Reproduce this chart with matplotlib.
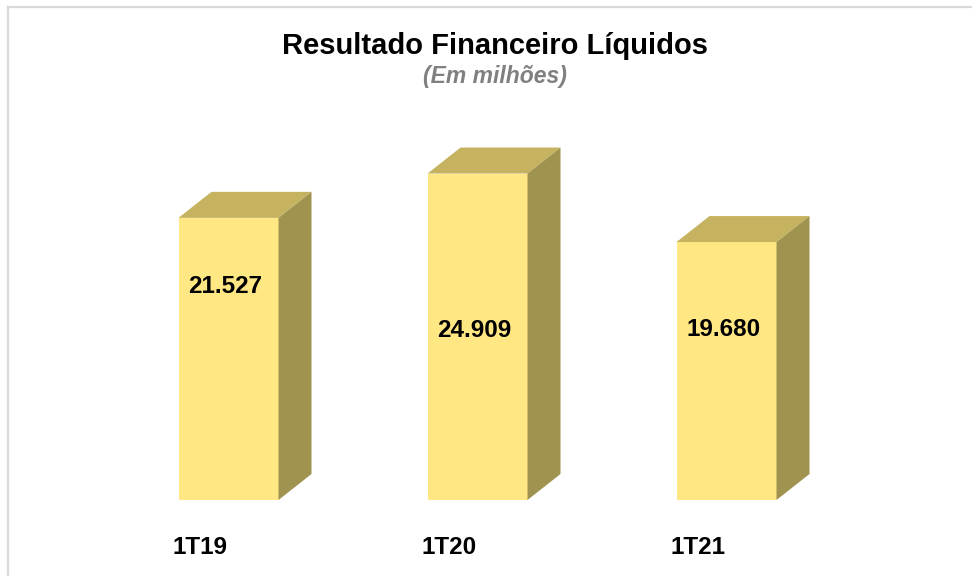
import matplotlib.pyplot as plt
from matplotlib.patches import Polygon
from matplotlib.lines import Line2D

plt.rcParams['font.family'] = ['Liberation Sans', 'DejaVu Sans']

# dados
categorias = ['1T19', '1T20', '1T21']
valores = [21527, 24909, 19680]
rotulos = ['21.527', '24.909', '19.680']
pos_rotulo = [0.755, 0.52, 0.66]   # altura relativa do rótulo dentro da barra

W, H = 972, 576
fig = plt.figure(figsize=(W / 100, H / 100), dpi=100)
ax = fig.add_axes([0, 0, 1, 1])
ax.axis('off')

# escala: 1 categoria = 249 px, 76.3 unidades por px, base em y=500 px (de cima)
px_x = 249.0
px_y = 76.3
x0 = 228.5
base = H - 500
ax.set_xlim(-x0 / px_x, (W - x0) / px_x)
ax.set_ylim(-base * px_y, (H - base) * px_y)

largura = 100 / px_x
dx = 33 / px_x
dy = 26 * px_y

frente = '#FFE883'
topo = '#C6B35F'
lado = '#A09350'

xs = list(range(len(categorias)))
ax.bar(xs, valores, width=largura, color=frente, zorder=2)

for x, v in zip(xs, valores):
    l = x - largura / 2
    r = x + largura / 2
    ax.add_patch(Polygon([(l, v), (r, v), (r + dx, v + dy), (l + dx, v + dy)],
                         closed=True, facecolor=topo, edgecolor='none', zorder=2))
    ax.add_patch(Polygon([(r, 0), (r, v), (r + dx, v + dy), (r + dx, dy)],
                         closed=True, facecolor=lado, edgecolor='none', zorder=2))

for x, v, t, f in zip(xs, valores, rotulos, pos_rotulo):
    ax.text(x - 0.012, v * f, t, ha='center', va='center', fontsize=17.5,
            fontweight='bold', color='black', zorder=3)

for x, c in zip(xs, categorias):
    ax.text(x - 0.225, -48 * px_y, c, ha='left', va='center', fontsize=17.5,
            fontweight='bold', color='black')

fig.text(495 / W, 1 - 46 / H, 'Resultado Financeiro Líquidos', ha='center',
         va='center', fontsize=21, fontweight='bold', color='black')
fig.text(495 / W, 1 - 77 / H, '(Em milhões)', ha='center', va='center',
         fontsize=16.5, fontweight='bold', fontstyle='italic', color='#808080')

# moldura
fig.add_artist(Line2D([7.5 / W, 1], [1 - 7 / H, 1 - 7 / H], color='#D9D9D9', lw=1.6))
fig.add_artist(Line2D([7.5 / W, 7.5 / W], [0, 1 - 7 / H], color='#D9D9D9', lw=1.6))

fig.savefig('out.png', dpi=100)
